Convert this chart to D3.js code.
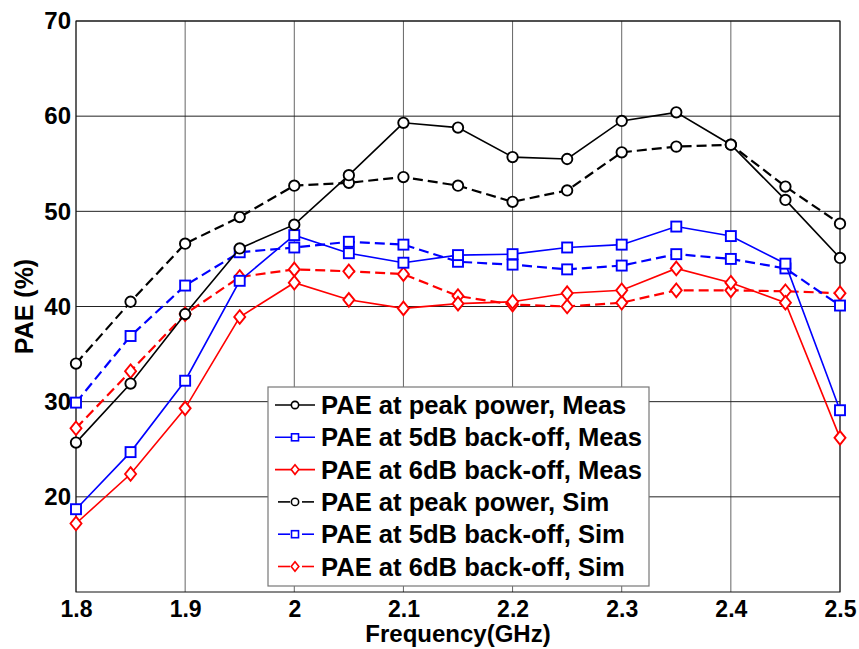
<!DOCTYPE html>
<html>
<head>
<meta charset="utf-8">
<script src="https://cdn.jsdelivr.net/npm/d3@7"></script>
<style>
  body { margin: 0; background: #fff; }
  text { font-family: "Liberation Sans", Arial, sans-serif; font-weight: bold; }
</style>
</head>
<body>
<div id="chart"></div>
<script>
// frequency points (GHz)
var freq = [1.8, 1.85, 1.9, 1.95, 2.0, 2.05, 2.1, 2.15, 2.2, 2.25, 2.3, 2.35, 2.4, 2.45, 2.5];

// PAE values (%)
var peakMeas = [25.7, 31.9, 39.2, 46.1, 48.6, 53.8, 59.3, 58.8, 55.7, 55.5, 59.5, 60.4, 57.0, 51.2, 45.1];
var bo5Meas  = [18.7, 24.7, 32.2, 42.7, 47.5, 45.6, 44.6, 45.4, 45.5, 46.2, 46.5, 48.4, 47.4, 44.5, 29.1];
var bo6Meas  = [17.2, 22.4, 29.3, 38.9, 42.5, 40.7, 39.8, 40.3, 40.5, 41.4, 41.7, 44.0, 42.5, 40.4, 26.2];
var peakSim  = [34.0, 40.5, 46.6, 49.4, 52.7, 53.0, 53.6, 52.7, 51.0, 52.2, 56.2, 56.8, 57.0, 52.6, 48.7];
var bo5Sim   = [29.9, 36.9, 42.2, 45.7, 46.2, 46.8, 46.5, 44.7, 44.4, 43.9, 44.3, 45.5, 45.0, 44.0, 40.1];
var bo6Sim   = [27.2, 33.2, 39.2, 43.1, 43.9, 43.7, 43.4, 41.1, 40.2, 40.0, 40.4, 41.7, 41.7, 41.6, 41.4];

var xTicks = [1.8, 1.9, 2.0, 2.1, 2.2, 2.3, 2.4, 2.5];
var yTicks = [20, 30, 40, 50, 60, 70];

var series = [
  {name: "PAE at peak power, Meas",     values: peakMeas, color: "#000", marker: "circle",  dashed: false},
  {name: "PAE at 5dB back-off, Meas",   values: bo5Meas,  color: "#00f", marker: "square",  dashed: false},
  {name: "PAE at 6dB back-off, Meas",   values: bo6Meas,  color: "#f00", marker: "diamond", dashed: false},
  {name: "PAE at peak power, Sim",      values: peakSim,  color: "#000", marker: "circle",  dashed: true},
  {name: "PAE at 5dB back-off, Sim",    values: bo5Sim,   color: "#00f", marker: "square",  dashed: true},
  {name: "PAE at 6dB back-off, Sim",    values: bo6Sim,   color: "#f00", marker: "diamond", dashed: true}
];

var W = 859, H = 649;
var margin = {top: 21, right: 19, bottom: 57, left: 76};
var width = W - margin.left - margin.right,
    height = H - margin.top - margin.bottom;

var svg = d3.select("#chart").append("svg")
    .attr("width", W).attr("height", H);

var g = svg.append("g")
    .attr("transform", "translate(" + margin.left + "," + margin.top + ")");

var x = d3.scaleLinear().domain([1.8, 2.5]).range([0, width]);
var y = d3.scaleLinear().domain([10, 70]).range([height, 0]);

// grid
g.append("g").selectAll("line").data(xTicks).enter().append("line")
    .attr("x1", d => x(d)).attr("x2", d => x(d))
    .attr("y1", 0).attr("y2", height)
    .attr("stroke", "#666").attr("stroke-width", 1);
g.append("g").selectAll("line").data(yTicks).enter().append("line")
    .attr("x1", 0).attr("x2", width)
    .attr("y1", d => y(d)).attr("y2", d => y(d))
    .attr("stroke", "#222").attr("stroke-width", 1);

// frame
g.append("rect").attr("x", 0).attr("y", 0)
    .attr("width", width).attr("height", height)
    .attr("fill", "none").attr("stroke", "#111").attr("stroke-width", 1);

// axes labels
var xAxis = d3.axisBottom(x).tickValues(xTicks).tickSize(0).tickPadding(9)
    .tickFormat(d => d3.format("")(+d.toFixed(1)));
var gx = g.append("g").attr("transform", "translate(0," + height + ")").call(xAxis);
gx.select(".domain").remove();
gx.selectAll("text").attr("font-size", 23).attr("fill", "#000")
    .attr("font-family", "'Liberation Sans', Arial, sans-serif").attr("font-weight", "bold");

var yAxis = d3.axisLeft(y).tickValues(yTicks).tickSize(0).tickPadding(5);
var gy = g.append("g").call(yAxis);
gy.select(".domain").remove();
gy.selectAll("text").attr("font-size", 24).attr("fill", "#000")
    .attr("font-family", "'Liberation Sans', Arial, sans-serif").attr("font-weight", "bold");

svg.append("text")
    .attr("x", margin.left + width / 2).attr("y", 642)
    .attr("text-anchor", "middle").attr("font-size", 24)
    .text("Frequency(GHz)");

svg.append("text")
    .attr("transform", "translate(33," + (margin.top + height / 2) + ")rotate(-90)")
    .attr("text-anchor", "middle").attr("font-size", 25)
    .text("PAE (%)");

// marker drawing
function drawMarker(sel, type, size) {
  if (type === "circle") {
    sel.append("circle").attr("r", size * 0.52);
  } else if (type === "square") {
    sel.append("rect").attr("x", -size / 2).attr("y", -size / 2)
       .attr("width", size).attr("height", size);
  } else {
    var w = size * 0.55, h = size * 0.68;
    sel.append("path").attr("d", "M0," + (-h) + "L" + w + ",0L0," + h + "L" + (-w) + ",0Z");
  }
}

var line = d3.line().x(d => x(d[0])).y(d => y(d[1]));

// draw sim first, meas on top
series.slice().reverse().forEach(function(s) {
  var pts = freq.map((f, i) => [f, s.values[i]]);
  g.append("path").datum(pts)
    .attr("d", line)
    .attr("fill", "none")
    .attr("stroke", s.color)
    .attr("stroke-width", s.dashed ? 2.2 : 1.6)
    .attr("stroke-dasharray", s.dashed ? "10,5" : null);
  var m = g.append("g").selectAll("g").data(pts).enter().append("g")
    .attr("transform", d => "translate(" + x(d[0]) + "," + y(d[1]) + ")")
    .attr("fill", "#fff").attr("stroke", s.color).attr("stroke-width", 1.9);
  m.each(function() { drawMarker(d3.select(this), s.marker, 10); });
});

// legend
var lg = svg.append("g").attr("transform", "translate(268,387)");
lg.append("rect").attr("x", 0).attr("y", 0).attr("width", 381).attr("height", 199)
    .attr("fill", "#fff").attr("stroke", "#777").attr("stroke-width", 1.2);

var rowH = 32.3;
series.forEach(function(s, i) {
  var cy = 18 + i * rowH;
  var row = lg.append("g").attr("transform", "translate(0," + cy + ")");
  if (s.dashed) {
    row.append("line").attr("x1", 10).attr("x2", 22).attr("y1", 0).attr("y2", 0)
      .attr("stroke", s.color).attr("stroke-width", 1.6);
    row.append("line").attr("x1", 34).attr("x2", 46).attr("y1", 0).attr("y2", 0)
      .attr("stroke", s.color).attr("stroke-width", 1.6);
  } else {
    row.append("line").attr("x1", 7).attr("x2", 47).attr("y1", 0).attr("y2", 0)
      .attr("stroke", s.color).attr("stroke-width", 1.6);
  }
  var mk = row.append("g").attr("transform", "translate(27,0)")
    .attr("fill", "#fff").attr("stroke", s.color).attr("stroke-width", 1.6);
  drawMarker(mk, s.marker, 7);
  row.append("text").attr("x", 53).attr("y", 9).attr("font-size", 25.6)
    .attr("fill", "#000").text(s.name);
});
</script>
</body>
</html>
